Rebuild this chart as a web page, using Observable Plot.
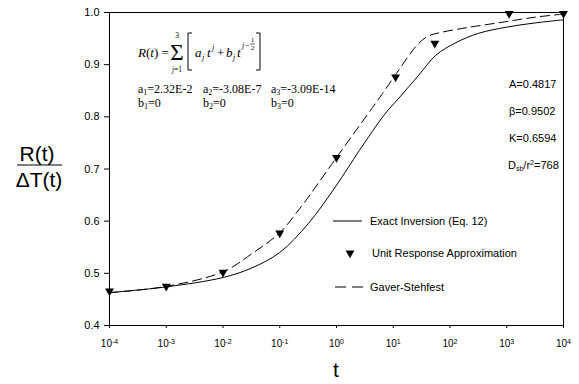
<!DOCTYPE html>
<html>
<head>
<meta charset="utf-8">
<script src="https://cdn.jsdelivr.net/npm/d3@7"></script>
<script src="https://cdn.jsdelivr.net/npm/@observablehq/plot@0.6"></script>
<style>
  html, body { margin: 0; padding: 0; background: white; }
  #chart { width: 579px; height: 384px; }
</style>
</head>
<body>
<div id="chart"></div>
<script>
// ---- data ----
const tTicks = [1e-4, 1e-3, 1e-2, 1e-1, 1e0, 1e1, 1e2, 1e3, 1e4];
const yTicks = [0.4, 0.5, 0.6, 0.7, 0.8, 0.9, 1.0];

// Exact Inversion (Eq. 12) - solid
const exactT = [1e-4, 1e-3, 1e-2, 10**-1.5, 1e-1, 10**-0.5, 1e0, 10**0.4, 10**0.85, 10**1.1, 10**1.45, 10**1.75, 10**2.1, 10**2.5, 10**3, 10**3.5, 1e4];
const exactV = [0.463, 0.474, 0.492, 0.510, 0.540, 0.595, 0.669, 0.735, 0.805, 0.836, 0.880, 0.918, 0.942, 0.960, 0.972, 0.980, 0.986];

// Gaver-Stehfest - dashed
const gaverT = [1e-4, 1e-3, 1e-2, 10**-1.5, 1e-1, 10**-0.6, 10**-0.3, 1e0, 10**0.45, 10**0.8, 10**1.1, 10**1.4, 10**1.6, 10**1.85, 10**2.3, 10**2.9, 10**3.5, 1e4];
const gaverV = [0.463, 0.475, 0.503, 0.537, 0.578, 0.631, 0.676, 0.722, 0.790, 0.843, 0.890, 0.935, 0.954, 0.962, 0.971, 0.981, 0.991, 0.997];

// Unit Response Approximation - triangles
const unitT = [1e-4, 1e-3, 1e-2, 1e-1, 1e0, 11, 54, 1100, 1e4];
const unitV = [0.466, 0.475, 0.502, 0.577, 0.722, 0.876, 0.941, 0.998, 0.998];

const seriesNames = ["Exact Inversion (Eq. 12)", "Unit Response Approximation", "Gaver-Stehfest"];
const paramLines = ["A=0.4817", "β=0.9502", "K=0.6594"];
const coefA = [["1", "=2.32E-2"], ["2", "=-3.08E-7"], ["3", "=-3.09E-14"]];
const coefB = [["1", "=0"], ["2", "=0"], ["3", "=0"]];

const exact = exactT.map((t, i) => ({t, v: exactV[i]}));
const gaver = gaverT.map((t, i) => ({t, v: gaverV[i]}));
const unit = unitT.map((t, i) => ({t, v: unitV[i]}));

const W = 579, H = 384;
const chart = Plot.plot({
  width: W, height: H,
  marginLeft: 109, marginRight: 16, marginTop: 12, marginBottom: 59,
  style: {fontFamily: "'Liberation Sans', Arial, sans-serif", fontSize: "11px", background: "white", color: "black"},
  x: {type: "log", domain: [1e-4, 1e4], ticks: tTicks, tickSize: 3, tickPadding: 11,
      tickFormat: d => String(Math.round(Math.log10(d))), label: null},
  y: {domain: [0.4, 1.0], ticks: yTicks, tickSize: 5, tickPadding: 5,
      tickFormat: d3.format(".1f"), label: null},
  marks: [
    Plot.frame({stroke: "black", strokeWidth: 1}),
    Plot.line(exact, {x: "t", y: "v", curve: "catmull-rom", stroke: "black", strokeWidth: 1}),
    Plot.line(gaver, {x: "t", y: "v", curve: "catmull-rom", stroke: "black", strokeWidth: 1, strokeDasharray: "9,5"}),
    Plot.dot(unit, {x: "t", y: "v", symbol: "triangle", rotate: 180, r: 3.3, fill: "black", stroke: "none"})
  ]
});
document.getElementById("chart").appendChild(chart);

const svg = d3.select(chart);

// superscript exponents on x tick labels
svg.selectAll('g[aria-label="x-axis tick label"] text').each(function() {
  const e = this.textContent;
  const t = d3.select(this);
  t.text(null).style("font-size", "10px");
  t.append("tspan").text("10");
  t.append("tspan").attr("dy", "-0.4em").style("font-size", "7px").text(e);
});

const ann = svg.append("g").attr("fill", "black").attr("text-anchor", "start");

// y-axis label as fraction
const sans = "'Liberation Sans', Arial, sans-serif";
ann.append("text").attr("x", 37).attr("y", 161).attr("text-anchor", "middle")
  .style("font-family", sans).style("font-size", "21px").text("R(t)");
ann.append("line").attr("x1", 17).attr("x2", 62).attr("y1", 165).attr("y2", 165)
  .attr("stroke", "black").attr("stroke-width", 1.2);
ann.append("text").attr("x", 39).attr("y", 187).attr("text-anchor", "middle")
  .style("font-family", sans).style("font-size", "21px").text("ΔT(t)");

// x-axis label
ann.append("text").attr("x", 336).attr("y", 377).attr("text-anchor", "middle")
  .style("font-family", sans).style("font-size", "21px").text("t");

// parameters on the right
paramLines.forEach((s, i) => {
  ann.append("text").attr("x", 509).attr("y", 88 + i * 27)
    .style("font-family", sans).style("font-size", "11px").text(s);
});
{
  const d = ann.append("text").attr("x", 508).attr("y", 169)
    .style("font-family", sans).style("font-size", "11px");
  d.append("tspan").text("D");
  d.append("tspan").attr("dy", 2).style("font-size", "7px").text("sb");
  d.append("tspan").attr("dy", -2).text("/r");
  d.append("tspan").attr("dy", -4).style("font-size", "7px").text("2");
  d.append("tspan").attr("dy", 4).text("=768");
}

// legend
const lg = svg.append("g").attr("text-anchor", "start");
lg.append("line").attr("x1", 333).attr("x2", 362).attr("y1", 221).attr("y2", 221)
  .attr("stroke", "black").attr("stroke-width", 1);
lg.append("path").attr("d", d3.symbol(d3.symbolTriangle, 3.3 * 3.3 * Math.PI)())
  .attr("transform", "translate(350,253) rotate(180)").attr("fill", "black");
lg.append("line").attr("x1", 335).attr("x2", 364).attr("y1", 287).attr("y2", 287)
  .attr("stroke", "black").attr("stroke-width", 1).attr("stroke-dasharray", "11,6");
[[370, 225], [372, 257], [370, 291]].forEach(([x, y], i) => {
  lg.append("text").attr("x", x).attr("y", y)
    .style("font-family", sans).style("font-size", "11px").text(seriesNames[i]);
});

// formula (serif)
const serif = "'Liberation Serif', 'Times New Roman', serif";
const fm = svg.append("g").style("font-family", serif).attr("fill", "black").attr("text-anchor", "start");
{
  const r = fm.append("text").attr("x", 138).attr("y", 57).style("font-size", "13px");
  r.append("tspan").style("font-style", "italic").text("R");
  r.append("tspan").text("(");
  r.append("tspan").style("font-style", "italic").text("t");
  r.append("tspan").text(") =");
  fm.append("text").attr("x", 177).attr("y", 60).attr("text-anchor", "middle").style("font-size", "23px").text("Σ");
  fm.append("text").attr("x", 177).attr("y", 38).attr("text-anchor", "middle").style("font-size", "7.5px").text("3");
  const jj = fm.append("text").attr("x", 177).attr("y", 72).attr("text-anchor", "middle").style("font-size", "7.5px");
  jj.append("tspan").style("font-style", "italic").text("j");
  jj.append("tspan").text("=1");
  fm.append("path").attr("d", "M192,33H188V70H192").attr("fill", "none").attr("stroke", "black").attr("stroke-width", 1);
  fm.append("path").attr("d", "M256,33H260V70H256").attr("fill", "none").attr("stroke", "black").attr("stroke-width", 1);
  const it = (x, y, s, fs) => fm.append("text").attr("x", x).attr("y", y).style("font-size", fs + "px").style("font-style", "italic").text(s);
  it(195, 57, "a", 13);
  it(202, 60, "j", 8);
  it(207, 57, "t", 13);
  it(212, 50, "j", 8);
  fm.append("text").attr("x", 217).attr("y", 57).style("font-size", "13px").text("+");
  it(226, 57, "b", 13);
  it(233, 60, "j", 8);
  it(237, 57, "t", 13);
  it(242, 48, "j", 8);
  fm.append("text").attr("x", 245).attr("y", 48).style("font-size", "8px").text("−");
  fm.append("text").attr("x", 252.5).attr("y", 42).attr("text-anchor", "middle").style("font-size", "6.5px").text("1");
  fm.append("line").attr("x1", 250).attr("x2", 255).attr("y1", 44).attr("y2", 44).attr("stroke", "black").attr("stroke-width", 0.6);
  fm.append("text").attr("x", 252.5).attr("y", 50).attr("text-anchor", "middle").style("font-size", "6.5px").text("2");
}
// coefficients
[138, 203, 271].forEach((x, i) => {
  const a = fm.append("text").attr("x", x).attr("y", 93).style("font-size", "12px");
  a.append("tspan").text("a");
  a.append("tspan").attr("dy", 2).style("font-size", "8px").text(coefA[i][0]);
  a.append("tspan").attr("dy", -2).text(coefA[i][1]);
  const b = fm.append("text").attr("x", x).attr("y", 107).style("font-size", "12px");
  b.append("tspan").text("b");
  b.append("tspan").attr("dy", 2).style("font-size", "8px").text(coefB[i][0]);
  b.append("tspan").attr("dy", -2).text(coefB[i][1]);
});
</script>
</body>
</html>
